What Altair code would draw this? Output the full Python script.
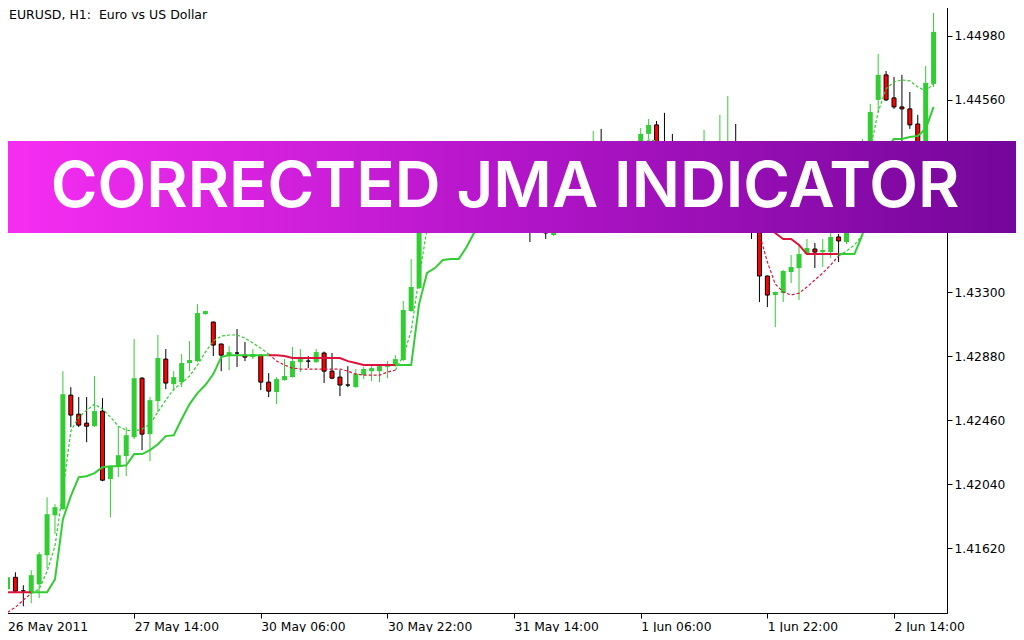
import altair as alt
import pandas as pd

GREEN = "#32CD32"
RED_BODY = "#FF0000"
RED_LINE = "#DC143C"

# ---- candles (EURUSD H1), index 0..117 ----
opens = [1.41351, 1.41429, 1.41340, 1.41324, 1.41383, 1.41574, 1.41836, 1.41876, 1.42624, 1.42499,
         1.42440, 1.42420, 1.42519, 1.42073, 1.42158, 1.42224, 1.42348, 1.42735, 1.42368, 1.42585,
         1.42860, 1.42696, 1.42709, 1.42834, 1.42847, 1.43155, 1.43103, 1.42959, 1.42886, 1.42900,
         1.42886, 1.42873, 1.42886, 1.42709, 1.42644, 1.42722, 1.42742, 1.42840, 1.42847, 1.42840,
         1.42900, 1.42781, 1.42742, 1.42690, 1.42676, 1.42755, 1.42781, 1.42781, 1.42808, 1.42814,
         1.42854, 1.43175, 1.43326, 1.43779, 1.44009, 1.43910, 1.44068, 1.44140, 1.44009, 1.44107,
         1.43976, 1.43910, 1.44009, 1.43877, 1.43812, 1.43910, 1.43792, 1.43726, 1.43812, 1.43674,
         1.43779, 1.43910, 1.44009, 1.43943, 1.44074, 1.44173, 1.44107, 1.44173, 1.44094, 1.44186,
         1.44271, 1.44337, 1.44396, 1.44238, 1.44173, 1.44140, 1.44206, 1.44107, 1.44173, 1.44238,
         1.44160, 1.44252, 1.44271, 1.44140, 1.43976, 1.43746, 1.43405, 1.43280, 1.43293, 1.43431,
         1.43457, 1.43549, 1.43582, 1.43562, 1.43562, 1.43661, 1.43628, 1.43910, 1.44107, 1.44173,
         1.44560, 1.44724, 1.44573, 1.44514, 1.44501, 1.44402, 1.44206, 1.44665]
highs = [1.41449, 1.41462, 1.41377, 1.41475, 1.41594, 1.41954, 1.41909, 1.42781, 1.42676, 1.42611,
         1.42611, 1.42749, 1.42604, 1.42162, 1.42420, 1.42414, 1.42991, 1.42742, 1.42611, 1.43018,
         1.42926, 1.42781, 1.42893, 1.42978, 1.43221, 1.43178, 1.43106, 1.42962, 1.42945, 1.43057,
         1.42972, 1.42926, 1.42889, 1.42768, 1.42742, 1.42860, 1.42939, 1.42926, 1.42880, 1.42926,
         1.42909, 1.42900, 1.42788, 1.42814, 1.42795, 1.42808, 1.42827, 1.42827, 1.42847, 1.42886,
         1.43241, 1.43516, 1.43910, 1.44074, 1.44107, 1.44140, 1.44238, 1.44206, 1.44173, 1.44140,
         1.44042, 1.44055, 1.44042, 1.43943, 1.43976, 1.43943, 1.43877, 1.43858, 1.43845, 1.43831,
         1.43976, 1.44074, 1.44107, 1.44140, 1.44357, 1.44370, 1.44238, 1.44238, 1.44252, 1.44291,
         1.44376, 1.44435, 1.44422, 1.44475, 1.44337, 1.44271, 1.44252, 1.44238, 1.44363, 1.44271,
         1.44462, 1.44586, 1.44402, 1.44173, 1.44009, 1.43779, 1.43408, 1.43303, 1.43444, 1.43543,
         1.43602, 1.43648, 1.43621, 1.43648, 1.43694, 1.43681, 1.43943, 1.44173, 1.44304, 1.44534,
         1.44862, 1.44750, 1.44711, 1.44724, 1.44612, 1.44462, 1.44783, 1.45131]
lows = [1.41331, 1.41331, 1.41239, 1.41259, 1.41292, 1.41489, 1.41712, 1.41869, 1.42414, 1.42414,
        1.42315, 1.42414, 1.42059, 1.41823, 1.42086, 1.42092, 1.42335, 1.42263, 1.42191, 1.42512,
        1.42663, 1.42650, 1.42676, 1.42781, 1.42840, 1.43152, 1.42880, 1.42781, 1.42788, 1.42808,
        1.42847, 1.42860, 1.42657, 1.42611, 1.42565, 1.42719, 1.42739, 1.42775, 1.42801, 1.42837,
        1.42703, 1.42729, 1.42617, 1.42676, 1.42673, 1.42729, 1.42716, 1.42709, 1.42735, 1.42811,
        1.42847, 1.43172, 1.43320, 1.43746, 1.43845, 1.43877, 1.44009, 1.43943, 1.43963, 1.43910,
        1.43812, 1.43845, 1.43812, 1.43746, 1.43766, 1.43726, 1.43628, 1.43700, 1.43648, 1.43667,
        1.43746, 1.43877, 1.43910, 1.43923, 1.44042, 1.44055, 1.44074, 1.44042, 1.44068, 1.44160,
        1.44238, 1.44304, 1.44206, 1.44120, 1.44074, 1.44107, 1.44055, 1.44074, 1.44140, 1.44107,
        1.44120, 1.44206, 1.44074, 1.43910, 1.43648, 1.43234, 1.43201, 1.43070, 1.43234, 1.43359,
        1.43247, 1.43546, 1.43457, 1.43464, 1.43523, 1.43497, 1.43615, 1.43877, 1.44042, 1.44140,
        1.44481, 1.44553, 1.44501, 1.44238, 1.44370, 1.44140, 1.44173, 1.44645]
closes = [1.41429, 1.41338, 1.41340, 1.41443, 1.41580, 1.41843, 1.41889, 1.42630, 1.42493, 1.42427,
          1.42420, 1.42519, 1.42066, 1.42158, 1.42230, 1.42361, 1.42735, 1.42368, 1.42591, 1.42867,
          1.42703, 1.42742, 1.42834, 1.42854, 1.43162, 1.43175, 1.42952, 1.42886, 1.42906, 1.42900,
          1.42873, 1.42893, 1.42709, 1.42650, 1.42729, 1.42749, 1.42847, 1.42860, 1.42847, 1.42906,
          1.42781, 1.42735, 1.42690, 1.42690, 1.42762, 1.42795, 1.42801, 1.42814, 1.42814, 1.42860,
          1.43182, 1.43333, 1.43779, 1.44009, 1.43910, 1.44074, 1.44140, 1.44009, 1.44107, 1.43976,
          1.43910, 1.44009, 1.43877, 1.43812, 1.43910, 1.43792, 1.43726, 1.43812, 1.43687, 1.43779,
          1.43910, 1.44009, 1.43943, 1.44074, 1.44173, 1.44107, 1.44173, 1.44094, 1.44186, 1.44271,
          1.44337, 1.44396, 1.44238, 1.44173, 1.44140, 1.44206, 1.44107, 1.44173, 1.44238, 1.44160,
          1.44252, 1.44271, 1.44140, 1.43976, 1.43746, 1.43405, 1.43280, 1.43300, 1.43438, 1.43464,
          1.43549, 1.43589, 1.43562, 1.43576, 1.43661, 1.43635, 1.43910, 1.44107, 1.44238, 1.44481,
          1.44724, 1.44560, 1.44514, 1.44501, 1.44396, 1.44206, 1.44672, 1.45006]

# ---- corrected JMA (solid) and JMA (dotted) ----
jma_fast = [1.41331, 1.41331, 1.41331, 1.41331, 1.41331, 1.41331, 1.41416, 1.41810, 1.41961, 1.42086,
            1.42092, 1.42112, 1.42151, 1.42158, 1.42158, 1.42164, 1.42237, 1.42237, 1.42263, 1.42302,
            1.42355, 1.42361, 1.42466, 1.42565, 1.42637, 1.42690, 1.42762, 1.42873, 1.42886, 1.42886,
            1.42886, 1.42886, 1.42886, 1.42886, 1.42886, 1.42880, 1.42867, 1.42867, 1.42867, 1.42867,
            1.42867, 1.42867, 1.42867, 1.42847, 1.42834, 1.42821, 1.42821, 1.42821, 1.42821, 1.42821,
            1.42821, 1.42821, 1.43221, 1.43425, 1.43457, 1.43510, 1.43516, 1.43516, 1.43595, 1.43694,
            1.43812, 1.43877, 1.43910, 1.43910, 1.43910, 1.43910, 1.43910, 1.43910, 1.43910, 1.43910,
            1.43910, 1.43943, 1.43976, 1.44009, 1.44055, 1.44094, 1.44107, 1.44120, 1.44140, 1.44173,
            1.44206, 1.44238, 1.44252, 1.44252, 1.44252, 1.44252, 1.44252, 1.44252, 1.44252, 1.44252,
            1.44252, 1.44252, 1.44252, 1.44173, 1.44042, 1.43845, 1.43746, 1.43687, 1.43648, 1.43648,
            1.43608, 1.43549, 1.43549, 1.43549, 1.43549, 1.43549, 1.43549, 1.43549, 1.43674, 1.43910,
            1.44107, 1.44238, 1.44304, 1.44304, 1.44317, 1.44324, 1.44370, 1.44514]
jma_dir = ("dddd" + "u" * 30 + "d" * 16 + "u" * 43 + "d" * 13 + "u" * 12)

jma_slow = [1.41200, 1.41232, 1.41280, 1.41324, 1.41351, 1.41469, 1.41633, 1.41994, 1.42388, 1.42480,
            1.42525, 1.42565, 1.42532, 1.42480, 1.42420, 1.42394, 1.42388, 1.42401, 1.42434, 1.42512,
            1.42591, 1.42663, 1.42703, 1.42749, 1.42821, 1.42906, 1.42978, 1.43011, 1.43018, 1.43018,
            1.42998, 1.42965, 1.42932, 1.42893, 1.42847, 1.42821, 1.42801, 1.42795, 1.42795, 1.42795,
            1.42795, 1.42795, 1.42795, 1.42781, 1.42762, 1.42755, 1.42755, 1.42755, 1.42775, 1.42788,
            1.42880, 1.43044, 1.43398, 1.43713, 1.43910, 1.44009, 1.44055, 1.44055, 1.44042, 1.44009,
            1.43963, 1.43923, 1.43891, 1.43858, 1.43838, 1.43825, 1.43792, 1.43779, 1.43772, 1.43779,
            1.43831, 1.43910, 1.43976, 1.44029, 1.44094, 1.44133, 1.44160, 1.44173, 1.44193, 1.44225,
            1.44265, 1.44298, 1.44291, 1.44265, 1.44225, 1.44199, 1.44173, 1.44173, 1.44186, 1.44193,
            1.44212, 1.44238, 1.44225, 1.44140, 1.43976, 1.43681, 1.43497, 1.43352, 1.43300, 1.43280,
            1.43293, 1.43333, 1.43379, 1.43425, 1.43477, 1.43536, 1.43569, 1.43608, 1.43674, 1.44238,
            1.44481, 1.44632, 1.44678, 1.44691, 1.44685, 1.44645, 1.44619, 1.44665]
slow_dir = ("dddd" + "u" * 30 + "d" * 16 + "u" * 13 + "d" * 7 + "u" * 14 + "d" * 5
            + "u" * 4 + "d" * 13 + "u" * 12)

tick_idx = [0, 16, 32, 48, 64, 80, 96, 112]
tick_labels = ["26 May 2011", "27 May 14:00", "30 May 06:00", "30 May 22:00",
               "31 May 14:00", "1 Jun 06:00", "1 Jun 22:00", "2 Jun 14:00"]
price_ticks = [1.4162, 1.4204, 1.4246, 1.4288, 1.4330, 1.4372, 1.4414, 1.4456, 1.4498]

n = len(opens)
idx = list(range(n))
kind = ["up" if c > o else ("dn" if c < o else "doji") for o, c in zip(opens, closes)]
candles = pd.DataFrame(dict(i=idx, o=opens, h=highs, l=lows, c=closes, kind=kind))
candles["wc"] = [GREEN if k == "up" else "black" for k in kind]


def runs(values, dirs):
    rows = []
    run = 0
    for i in range(1, len(values)):
        col = GREEN if dirs[i] == "u" else RED_LINE
        if i > 1 and dirs[i] != dirs[i - 1]:
            run += 1
        if i == 1 or dirs[i] != dirs[i - 1]:
            rows.append(dict(i=i - 1, v=values[i - 1], run=run, col=col))
        rows.append(dict(i=i, v=values[i], run=run, col=col))
    return pd.DataFrame(rows)


fast_df = runs(jma_fast, jma_dir)
slow_df = runs(jma_slow, slow_dir)

label_arr = "[" + ",".join("'%s'" % t for t in tick_labels) + "]"
x_axis = alt.Axis(values=tick_idx, labelExpr=label_arr + "[round(datum.value/16)]",
                  labelAlign="left", labelBaseline="top", labelPadding=2, title=None,
                  labelFlush=False, labelOverlap=False, orient="bottom")
y_axis = alt.Axis(values=price_ticks, format=".5f", orient="right", title=None,
                  labelPadding=2, labelBaseline="middle", labelOverlap=False, labelFlush=False)
xs = alt.Scale(domain=[-0.0625, 118.0625], nice=False, zero=False)
ys = alt.Scale(domain=[1.41195, 1.45202], nice=False, zero=False)

X = alt.X("i:Q", scale=xs, axis=x_axis)

wicks = alt.Chart(candles).mark_rule(strokeWidth=1, clip=True).encode(
    x=X, y=alt.Y("l:Q", scale=ys, axis=y_axis), y2="h:Q",
    color=alt.Color("wc:N", scale=None))

up_bodies = alt.Chart(candles).transform_filter("datum.kind == 'up'").mark_bar(
    size=5, color=GREEN, clip=True).encode(
    x=X, y=alt.Y("o:Q", scale=ys, axis=y_axis), y2="c:Q")

dn_bodies = alt.Chart(candles).transform_filter("datum.kind != 'up'").mark_bar(
    size=4, fill=RED_BODY, stroke="black", strokeWidth=1, clip=True).encode(
    x=X, y=alt.Y("o:Q", scale=ys, axis=y_axis), y2="c:Q")

slow_line = alt.Chart(slow_df).mark_line(strokeWidth=1.2, strokeDash=[3, 2], clip=True).encode(
    x=X, y=alt.Y("v:Q", scale=ys, axis=y_axis), detail="run:N",
    color=alt.Color("col:N", scale=None), order="i:Q")

fast_line = alt.Chart(fast_df).mark_line(strokeWidth=2, clip=True).encode(
    x=X, y=alt.Y("v:Q", scale=ys, axis=y_axis), detail="run:N",
    color=alt.Color("col:N", scale=None), order="i:Q")

one = pd.DataFrame({"a": [0]})
title = alt.Chart(one).mark_text(
    text="EURUSD, H1:\u00a0 Euro vs US Dollar", font="DejaVu Sans", fontSize=12.5,
    align="left", baseline="alphabetic", color="black").encode(
    x=alt.value(7), y=alt.value(17.3))

banner = alt.Chart(one).mark_rect(
    color=alt.LinearGradient(gradient="linear",
                             stops=[alt.GradientStop(color="#f72ef3", offset=0),
                                    alt.GradientStop(color="#b315c9", offset=0.5),
                                    alt.GradientStop(color="#730699", offset=1)],
                             x1=0, x2=1, y1=0, y2=0),
    clip=False).encode(x=alt.value(-2), x2=alt.value(1022), y=alt.value(139), y2=alt.value(231))

banner_text = alt.Chart(one).mark_text(
    text="CORRECTED JMA INDICATOR", font="Inter", fontWeight=600, fontSize=63.5,
    color="white", align="center", baseline="alphabetic").encode(
    x=alt.value(503), y=alt.value(205))

chart = alt.layer(wicks, up_bodies, dn_bodies, slow_line, fast_line, title, banner, banner_text).properties(
    width=945, height=611,
    padding={"left": -6, "top": -6, "right": 69, "bottom": 19},
    autosize=alt.AutoSizeParams(type="none"),
    background="white",
).configure_view(stroke="black", strokeWidth=1).configure_axis(
    labelFont="DejaVu Sans", labelFontSize=12.3, labelColor="black", tickColor="black",
    domainColor="black", tickSize=5, grid=False, domainWidth=1, tickWidth=1)

chart.save("out.html", embed_options={"renderer": "svg", "actions": False})
